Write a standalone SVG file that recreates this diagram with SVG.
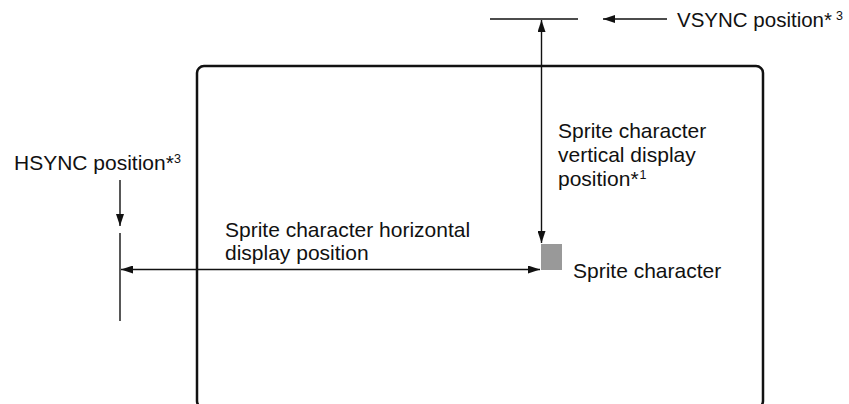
<svg xmlns="http://www.w3.org/2000/svg" width="849" height="404" viewBox="0 0 849 404">
<style>
text{font-family:"Liberation Sans",Arial,sans-serif;font-size:21px;fill:#111}
.sup{font-size:12.5px}
.ln{stroke:#111;stroke-width:1.4;fill:none}
</style>
<defs>
<marker id="ah" viewBox="0 0 12 8" refX="12" refY="4" markerWidth="12" markerHeight="8" markerUnits="userSpaceOnUse" orient="auto-start-reverse">
<path d="M0,0 L12,4 L0,8 Z" fill="#111"/>
</marker>
</defs>
<g id="screen">
<rect x="197" y="66" width="566" height="342" rx="7" ry="7" fill="none" stroke="#111" stroke-width="2.5"/>
</g>
<g id="vsync">
<line class="ln" x1="490" y1="19" x2="578" y2="19"/>
<text x="677" y="27" style="font-size:20.5px">VSYNC position*<tspan class="sup" dx="4" dy="-7">3</tspan></text>
</g>
<g id="hsync">
<line class="ln" x1="120" y1="233" x2="120" y2="321"/>
<text x="14" y="170">HSYNC position*<tspan class="sup" dy="-7">3</tspan></text>
</g>
<g id="sprite">
<rect x="541" y="244" width="21" height="26" fill="#999"/>
<text x="573" y="278">Sprite character</text>
</g>
<g id="vlabel">
<text x="558" y="138">Sprite character</text>
<text x="558" y="162">vertical display</text>
<text x="558" y="186">position*<tspan class="sup" dx="1" dy="-7">1</tspan></text>
</g>
<g id="hlabel">
<text x="225" y="237">Sprite character horizontal</text>
<text x="225" y="260">display position</text>
</g>
<g id="connectors">
<line class="ln" x1="541.5" y1="20" x2="541.5" y2="243" marker-start="url(#ah)" marker-end="url(#ah)"/>
<line class="ln" x1="121" y1="269.5" x2="540" y2="269.5" marker-start="url(#ah)" marker-end="url(#ah)"/>
<line class="ln" x1="667" y1="19" x2="603" y2="19" marker-end="url(#ah)"/>
<line class="ln" x1="120" y1="180" x2="120" y2="226" marker-end="url(#ah)"/>
</g>
</svg>
